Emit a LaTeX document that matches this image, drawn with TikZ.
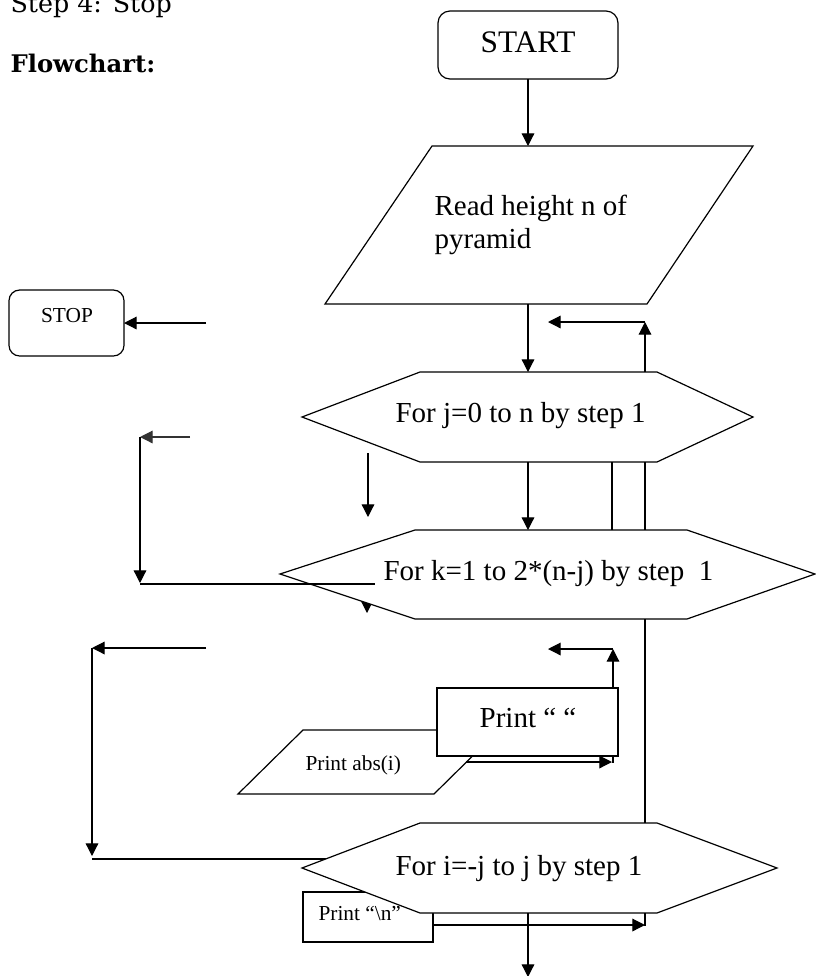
\documentclass[tikz,border=0pt]{standalone}
\usepackage{fontspec}
\setmainfont{Liberation Serif}
\newfontfamily\bookman{DejaVu Serif}
\usetikzlibrary{arrows.meta}
\begin{document}
\begin{tikzpicture}[x=0.75pt,y=-0.75pt, line width=0.9pt,
  arr/.style={-{Triangle[length=9.5pt,width=9.5pt]}},
  box/.style={draw, fill=white, line join=miter},
  big/.style={font=\fontsize{21.75pt}{25pt}\selectfont, inner sep=0pt},
  small/.style={font=\fontsize{16pt}{18pt}\selectfont, inner sep=0pt},
  head/.style={font=\bookman\fontsize{19pt}{22pt}\selectfont, inner sep=0pt, anchor=base west}]
\useasboundingbox (0,0) rectangle (816,976);

% header texts
\node[head] (step4) at (10,12) {Step 4: Stop};
\node[head, font=\bookman\bfseries\fontsize{18.2pt}{22pt}\selectfont] (fc) at (10,72) {Flowchart:};

% START
\draw[box, rounded corners=9pt] (438,11) rectangle (618,79);
\node[big, anchor=base, font=\fontsize{23.5pt}{27pt}\selectfont] (start) at (528,52) {START};
\coordinate (startS) at (528,79);

% read parallelogram
\coordinate (readN) at (528,146);
\coordinate (readS) at (528,304);
\draw[box] (432,146) -- (753,146) -- (647,304) -- (325,304) -- cycle;
\node[big, anchor=base west] (read1) at (434,215) {Read height n of};
\node[big, anchor=base west] (read2) at (434,248) {pyramid};
\draw[arr] (startS) -- (readN);

% j hexagon
\coordinate (jN) at (528,372);
\coordinate (jS) at (528,462);
\draw[box] (420,372) -- (657,372) -- (753,417) -- (657,462) -- (420,462) -- (302,417) -- cycle;
\node[big, anchor=base west] (jtext) at (395,422) {For j=0 to n by step 1};
\draw[arr] (readS) -- (jN);
\coordinate (jR) at (645,372);
\coordinate (jRup) at (645,322);
\coordinate (jRend) at (548,322);
\draw[arr] (jR) -- (jRup);
\draw[arr] (jRup) -- (jRend);

% STOP
\draw[box, rounded corners=8pt] (9,290) rectangle (124,356);
\node[small, anchor=base] (stop) at (67,322) {STOP};
\coordinate (stopE) at (124,323);
\coordinate (stopsrc) at (206,323);
\draw[arr] (stopsrc) -- (stopE);

% connectors between j and k hexagons
\coordinate (kN) at (528,530);
\draw[arr] (jS) -- (kN);
\draw (612,462) -- (612,530);
\draw (645,462) -- (645,530);
\coordinate (fa) at (368,453);
\coordinate (fb) at (368,517);
\draw[arr] (fa) -- (fb);

% left loop 1
\coordinate (l1a) at (190,437);
\coordinate (l1b) at (140,437);
\coordinate (l1c) at (140,583);
\draw[arr, black!80] (l1a) -- (l1b);
\draw[arr] (l1b) -- (l1c);

% hidden arrow under k hexagon
\coordinate (ha) at (367,595);
\coordinate (hb) at (367,613);
\draw[arr] (ha) -- (hb);

% k hexagon
\draw[box] (415,530) -- (687,530) -- (815,574) -- (687,619) -- (415,619) -- (280,574) -- cycle;
\node[big, anchor=base west] (ktext) at (383,580) {For k=1 to 2*(n-j) by step\ \ 1};
\coordinate (kl1) at (140,584);
\coordinate (kl2) at (375,584);
\draw[line width=1.6pt] (kl1) -- (kl2);

% line from k hexagon to i hexagon
\coordinate (kS) at (645,619);
\coordinate (iNr) at (645,823);
\draw (kS) -- (iNr);

% left loop 2
\coordinate (l2a) at (206,648);
\coordinate (l2b) at (92,648);
\coordinate (l2c) at (92,856);
\coordinate (l2d) at (92,859);
\coordinate (l2e) at (330,859);
\draw[arr] (l2a) -- (l2b);
\draw[arr] (l2b) -- (l2c);
\draw (l2d) -- (l2e);

% Print " " loop arrows
\coordinate (pN) at (613,688);
\coordinate (pup) at (613,649);
\coordinate (pend) at (548,649);
\draw[arr] (pN) -- (pup);
\draw[arr] (pup) -- (pend);

% Print abs(i)
\draw[box] (303,730) -- (499,730) -- (434,794) -- (238,794) -- cycle;
\node[small, anchor=base west] (pabs) at (305,770) {Print abs(i)};

% Print " "
\draw[box] (437,688) rectangle (618,756);
\node[big, anchor=base] (pspace) at (528,727) {Print “ “};
\coordinate (pa1) at (466,762);
\coordinate (pa2) at (612,762);
\draw[arr] (pa1) -- (pa2);
\draw (613,756) -- (613,763);

% Print \n
\draw[box] (303,892) rectangle (433,942);
\node[small, anchor=base west] (pn) at (318,920) {Print “\textbackslash n”};

% i hexagon
\draw[box] (420,823) -- (657,823) -- (777,868) -- (657,913) -- (420,913) -- (302,868) -- cycle;
\node[big, anchor=base west] (itext) at (395,875) {For i=-j to j by step 1};
\coordinate (pnE) at (433,925);
\coordinate (pnT) at (645,925);
\draw[arr] (pnE) -- (pnT);
\draw (645,913) -- (645,926);
\coordinate (iS) at (528,913);
\coordinate (endp) at (528,977);
\draw[arr] (iS) -- (endp);
\end{tikzpicture}
\end{document}
